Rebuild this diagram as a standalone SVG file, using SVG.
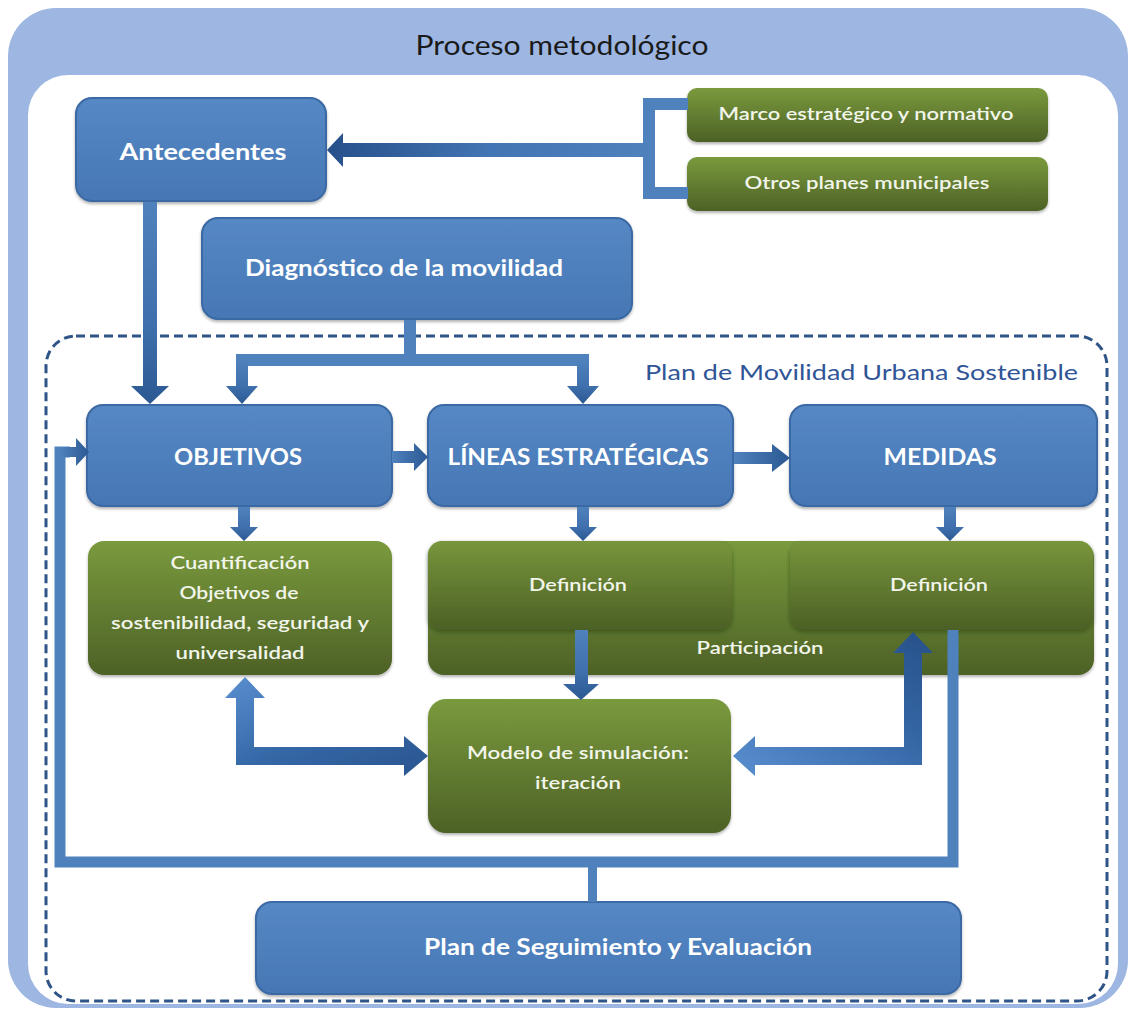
<svg xmlns="http://www.w3.org/2000/svg" width="1134" height="1010" viewBox="0 0 1134 1010">
<defs>
<style>
.bt{font-family:Lato,"Liberation Sans",sans-serif;font-weight:700;font-size:23px;fill:#ffffff;text-anchor:middle}
.gt{font-family:Lato,"Liberation Sans",sans-serif;font-weight:600;font-size:18px;fill:#f2f5ea;text-anchor:middle}
.blue{fill:url(#gBlue);stroke:#3b69a3;stroke-width:2;filter:url(#sh)}
.green{fill:url(#gGreen);filter:url(#sh)}
.sub{fill:url(#gSub);filter:url(#sh2)}
.ln{fill:#4f81bd}
.lnS{fill:none;stroke:#4f81bd}
</style>
<linearGradient id="gBlue" x1="0" y1="0" x2="0" y2="1"><stop offset="0" stop-color="#5588c5"/><stop offset="1" stop-color="#4677b4"/></linearGradient>
<linearGradient id="gGreen" x1="0" y1="0" x2="0" y2="1"><stop offset="0" stop-color="#7a9a3d"/><stop offset="1" stop-color="#4d6126"/></linearGradient>
<linearGradient id="gSub" x1="0" y1="0" x2="0" y2="1"><stop offset="0" stop-color="#78953b"/><stop offset="1" stop-color="#4c6025"/></linearGradient>
<linearGradient id="gDown" x1="0" y1="0" x2="0" y2="1"><stop offset="0" stop-color="#4f81bd"/><stop offset="0.6" stop-color="#3f70ad"/><stop offset="1" stop-color="#2b5892"/></linearGradient>
<linearGradient id="gLeft" x1="1" y1="0" x2="0" y2="0"><stop offset="0" stop-color="#4f81bd"/><stop offset="0.5" stop-color="#4275b3"/><stop offset="1" stop-color="#26508a"/></linearGradient>
<linearGradient id="gRight" x1="0" y1="0" x2="1" y2="0"><stop offset="0" stop-color="#4f81bd"/><stop offset="1" stop-color="#2b5892"/></linearGradient>
<linearGradient id="gBiL" x1="0" y1="0" x2="1" y2="1"><stop offset="0" stop-color="#5a8fd0"/><stop offset="0.5" stop-color="#3568a6"/><stop offset="1" stop-color="#2a5590"/></linearGradient>
<linearGradient id="gBiR" x1="0" y1="1" x2="1" y2="0"><stop offset="0" stop-color="#5a8fd0"/><stop offset="0.6" stop-color="#3466a4"/><stop offset="1" stop-color="#264f88"/></linearGradient>
<filter id="sh" x="-10%" y="-10%" width="120%" height="130%"><feDropShadow dx="0" dy="2" stdDeviation="1.8" flood-color="#000" flood-opacity="0.3"/></filter>
<filter id="sh2" x="-10%" y="-10%" width="120%" height="130%"><feDropShadow dx="0" dy="2" stdDeviation="2" flood-color="#1e2a0c" flood-opacity="0.45"/></filter>
</defs>

<g id="frame">
<rect x="8" y="8" width="1120" height="1000" rx="48" fill="#9db6e2"/>
<rect x="28" y="75" width="1090" height="929" rx="40" fill="#ffffff"/>
<text x="562" y="55" font-family="Lato,'Liberation Sans',sans-serif" font-size="27" fill="#1a1a1a" text-anchor="middle" textLength="293" lengthAdjust="spacingAndGlyphs">Proceso metodológico</text>
</g>

<g id="pmus">
<rect x="46" y="336" width="1061" height="665" rx="30" fill="none" stroke="#2f5487" stroke-width="3" stroke-dasharray="9 5"/>
<text x="1078" y="380" font-family="Lato,'Liberation Sans',sans-serif" font-size="22" fill="#2f5597" text-anchor="end" textLength="433" lengthAdjust="spacingAndGlyphs">Plan de Movilidad Urbana Sostenible</text>
</g>

<g id="antecedentes">
<rect class="blue" x="76" y="98" width="250" height="103" rx="16"/>
<text class="bt" x="203" y="160" textLength="167" lengthAdjust="spacingAndGlyphs">Antecedentes</text>
</g>
<g id="marco">
<rect class="green" x="687" y="88" width="361" height="54" rx="10"/>
<text class="gt" x="866" y="120" textLength="295" lengthAdjust="spacingAndGlyphs">Marco estratégico y normativo</text>
</g>
<g id="otros">
<rect class="green" x="687" y="157" width="361" height="54" rx="10"/>
<text class="gt" x="867" y="189" textLength="245" lengthAdjust="spacingAndGlyphs">Otros planes municipales</text>
</g>
<g id="diagnostico">
<rect class="blue" x="202" y="218" width="430" height="101" rx="16"/>
<text class="bt" x="404" y="276" textLength="318" lengthAdjust="spacingAndGlyphs">Diagnóstico de la movilidad</text>
</g>
<g id="objetivos">
<rect class="blue" x="87" y="405" width="305" height="101" rx="16"/>
<text class="bt" x="238" y="465" textLength="128" lengthAdjust="spacingAndGlyphs">OBJETIVOS</text>
</g>
<g id="lineas">
<rect class="blue" x="428" y="405" width="305" height="101" rx="16"/>
<text class="bt" x="578" y="465" textLength="261" lengthAdjust="spacingAndGlyphs">LÍNEAS ESTRATÉGICAS</text>
</g>
<g id="medidas">
<rect class="blue" x="790" y="405" width="307" height="101" rx="16"/>
<text class="bt" x="940" y="465" textLength="113" lengthAdjust="spacingAndGlyphs">MEDIDAS</text>
</g>
<g id="cuantificacion">
<rect class="green" x="88" y="541" width="304" height="134" rx="16"/>
<text class="gt" x="240" y="569" textLength="139" lengthAdjust="spacingAndGlyphs">Cuantificación</text>
<text class="gt" x="239" y="599" textLength="119" lengthAdjust="spacingAndGlyphs">Objetivos de</text>
<text class="gt" x="240" y="629" textLength="258" lengthAdjust="spacingAndGlyphs">sostenibilidad, seguridad y</text>
<text class="gt" x="240" y="659" textLength="129" lengthAdjust="spacingAndGlyphs">universalidad</text>
</g>
<g id="participacion">
<rect class="green" x="428" y="541" width="666" height="134" rx="16"/>
<text class="gt" x="760" y="654" textLength="127" lengthAdjust="spacingAndGlyphs">Participación</text>
</g>
<g id="definicion-lineas">
<rect class="sub" x="428" y="541" width="304" height="89" rx="14"/>
<text class="gt" x="578" y="591" textLength="98" lengthAdjust="spacingAndGlyphs">Definición</text>
</g>
<g id="definicion-medidas">
<rect class="sub" x="790" y="541" width="303" height="89" rx="14"/>
<text class="gt" x="939" y="591" textLength="98" lengthAdjust="spacingAndGlyphs">Definición</text>
</g>
<g id="modelo">
<rect class="green" x="428" y="699" width="303" height="134" rx="18"/>
<text class="gt" x="578" y="759" textLength="222" lengthAdjust="spacingAndGlyphs">Modelo de simulación:</text>
<text class="gt" x="578" y="789" textLength="86" lengthAdjust="spacingAndGlyphs">iteración</text>
</g>
<g id="seguimiento">
<rect class="blue" x="256" y="902" width="705" height="92" rx="16"/>
<text class="bt" x="618" y="955" textLength="388" lengthAdjust="spacingAndGlyphs">Plan de Seguimiento y Evaluación</text>
</g>

<g id="connectors">
<path class="lnS" stroke-width="12" d="M688,104 H649 V193 H688"/>
<polygon fill="url(#gLeft)" points="652,143 343,143 343,133 327,150 343,167 343,157 652,157"/>
<polygon fill="url(#gDown)" points="143,202 157,202 157,386 169,386 150,404 131,386 143,386"/>
<rect class="ln" x="404" y="320" width="12" height="40"/>
<rect class="ln" x="236" y="354" width="353" height="12"/>
<polygon fill="url(#gDown)" points="236,360 248,360 248,386 258,386 242,404 226,386 236,386"/>
<polygon fill="url(#gDown)" points="577,360 589,360 589,386 599,386 583,404 567,386 577,386"/>
<polygon fill="url(#gRight)" points="392,451 414,451 414,443 428,457 414,471 414,463 392,463"/>
<polygon fill="url(#gRight)" points="734,452 772,452 772,444 790,458 772,472 772,464 734,464"/>
<polygon fill="url(#gDown)" points="238,507 250,507 250,527 258,527 244,541 230,527 238,527"/>
<polygon fill="url(#gDown)" points="577,507 589,507 589,527 597,527 583,541 569,527 577,527"/>
<polygon fill="url(#gDown)" points="944,507 956,507 956,527 964,527 950,541 936,527 944,527"/>
<polygon fill="url(#gDown)" points="575,630 588,630 588,684 599,684 581,700 563,684 575,684"/>
<polygon fill="url(#gBiL)" points="245,677 265,698 254,698 254,747 404,747 404,736 428,756 404,776 404,765 236,765 236,698 225,698"/>
<polygon fill="url(#gBiR)" points="733,756 755,736 755,747 904,747 904,653 893,653 913,632 933,653 922,653 922,765 755,765 755,776"/>
<path class="lnS" stroke-width="11" d="M953,630 V862 H60 V452 H70"/>
<polygon fill="url(#gRight)" points="60,447 76,447 76,438 89,452 76,466 76,457 60,457"/>
<rect class="ln" x="588" y="862" width="9" height="40"/>
</g>
</svg>
